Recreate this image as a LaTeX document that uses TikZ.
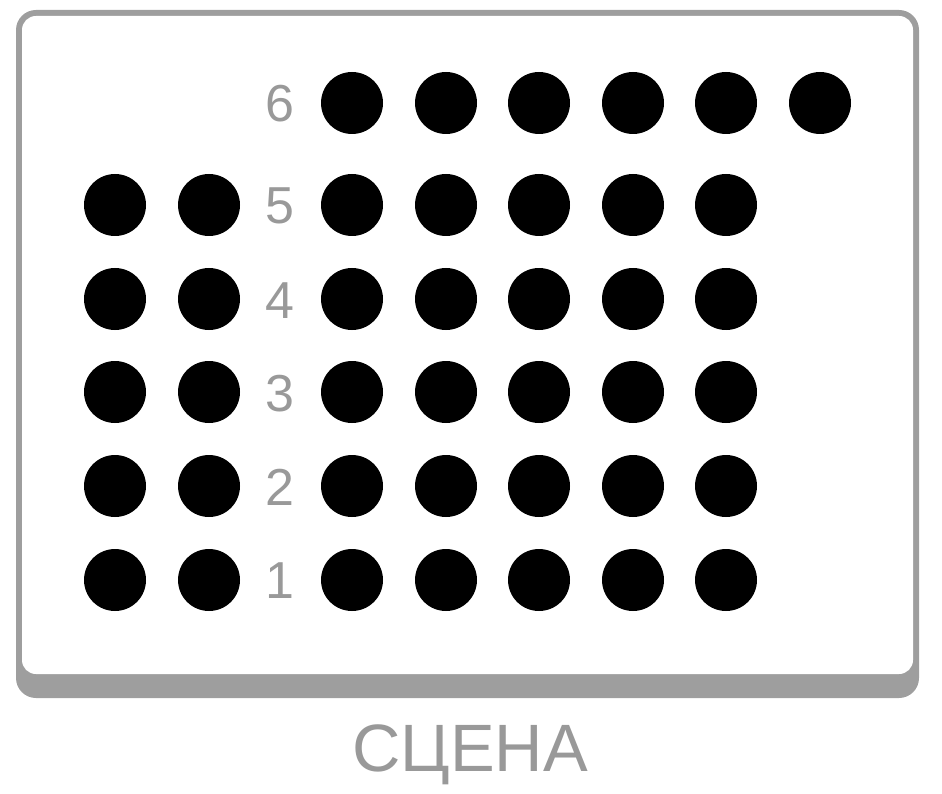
\documentclass[tikz,border=0pt]{standalone}
\usepackage{fontspec}
\setmainfont{Liberation Sans}
\definecolor{framegray}{RGB}{158,158,158}
\definecolor{labelgray}{RGB}{153,153,153}
\begin{document}
\begin{tikzpicture}[x=1pt,y=-1pt,
  seat/.style={circle, fill, inner sep=0pt, minimum size=62pt},
  rownum/.style={anchor=base, text=labelgray, inner sep=0pt, font=\fontsize{52}{52}\selectfont}]
\useasboundingbox (0,0) rectangle (942,794);
% stage frame
\fill[framegray, rounded corners=20pt] (16,10) rectangle (919,698);
\fill[white, rounded corners=14pt] (22,16) rectangle (913,674);
% row 6
\node[rownum] (r6) at (280,122){6};
\node[seat] (s63) at (352,103){};
\node[seat] (s64) at (446,103){};
\node[seat] (s65) at (539,103){};
\node[seat] (s66) at (633,103){};
\node[seat] (s67) at (726,103){};
\node[seat] (s68) at (820,103){};
% row 5
\node[seat] (s51) at (115,205){};
\node[seat] (s52) at (209,205){};
\node[rownum] (r5) at (280,224){5};
\node[seat] (s53) at (352,205){};
\node[seat] (s54) at (446,205){};
\node[seat] (s55) at (539,205){};
\node[seat] (s56) at (633,205){};
\node[seat] (s57) at (726,205){};
% row 4
\node[seat] (s41) at (115,299){};
\node[seat] (s42) at (209,299){};
\node[rownum] (r4) at (280,318){4};
\node[seat] (s43) at (352,299){};
\node[seat] (s44) at (446,299){};
\node[seat] (s45) at (539,299){};
\node[seat] (s46) at (633,299){};
\node[seat] (s47) at (726,299){};
% row 3
\node[seat] (s31) at (115,392){};
\node[seat] (s32) at (209,392){};
\node[rownum] (r3) at (280,411){3};
\node[seat] (s33) at (352,392){};
\node[seat] (s34) at (446,392){};
\node[seat] (s35) at (539,392){};
\node[seat] (s36) at (633,392){};
\node[seat] (s37) at (726,392){};
% row 2
\node[seat] (s21) at (115,486){};
\node[seat] (s22) at (209,486){};
\node[rownum] (r2) at (280,505){2};
\node[seat] (s23) at (352,486){};
\node[seat] (s24) at (446,486){};
\node[seat] (s25) at (539,486){};
\node[seat] (s26) at (633,486){};
\node[seat] (s27) at (726,486){};
% row 1
\node[seat] (s11) at (115,580){};
\node[seat] (s12) at (209,580){};
\node[rownum] (r1) at (280,598){1};
\node[seat] (s13) at (352,580){};
\node[seat] (s14) at (446,580){};
\node[seat] (s15) at (539,580){};
\node[seat] (s16) at (633,580){};
\node[seat] (s17) at (726,580){};
% stage label
\node[anchor=base, text=labelgray, inner sep=0pt, font=\fontsize{67}{67}\selectfont] (stage) at (470,771){СЦЕНА};
\end{tikzpicture}
\end{document}
